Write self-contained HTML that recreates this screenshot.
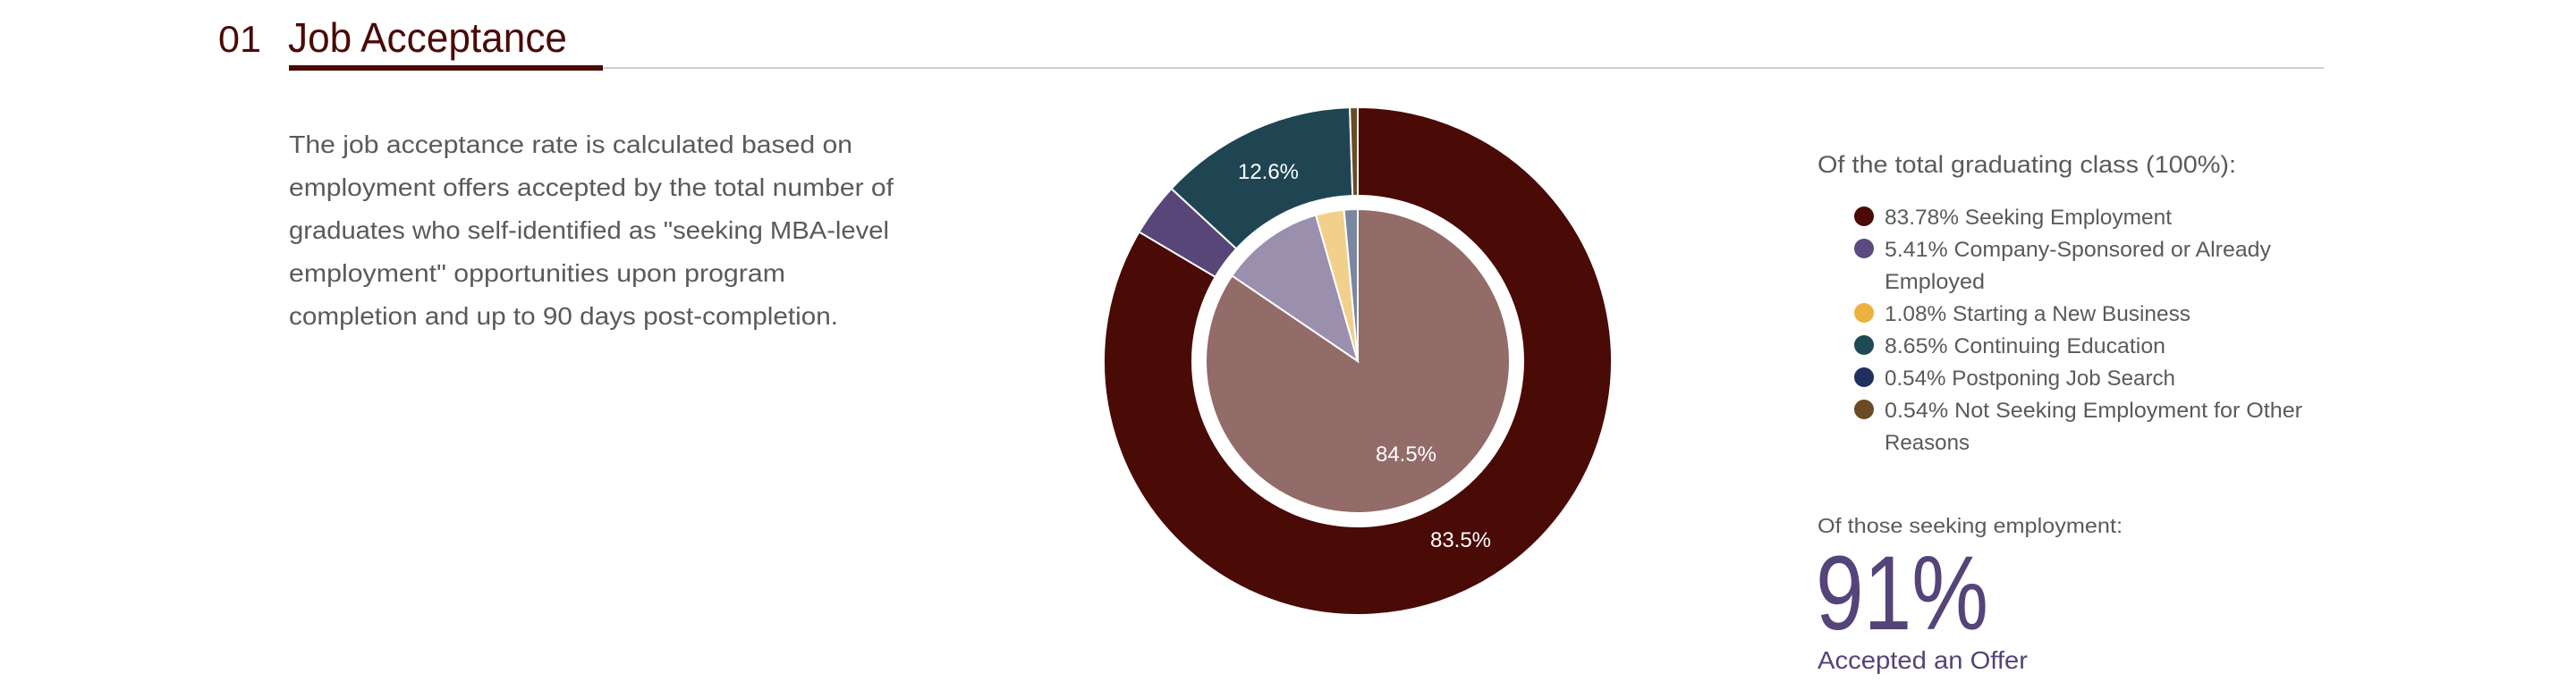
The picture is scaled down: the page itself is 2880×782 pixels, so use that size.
<!DOCTYPE html>
<html><head><meta charset="utf-8"><style>
html,body{margin:0;padding:0;background:#fff;width:2880px;height:782px;overflow:hidden}
svg text{font-family:"Liberation Sans",sans-serif}
</style></head><body>
<svg id="s" width="2880" height="782" viewBox="0 0 2880 782" xmlns="http://www.w3.org/2000/svg">
<text x="244" y="58" font-size="42" fill="#4a0a06" textLength="48" lengthAdjust="spacingAndGlyphs">01</text>
<text x="322" y="58" font-size="46" fill="#4a0a06" textLength="312" lengthAdjust="spacingAndGlyphs">Job Acceptance</text>
<rect x="674" y="75" width="1924" height="2" fill="#cfcfcf"/>
<rect x="323" y="73" width="351" height="6" fill="#4a0a06"/>
<g font-size="28" fill="#5a5a5a">
<text x="323" y="171" textLength="630" lengthAdjust="spacingAndGlyphs">The job acceptance rate is calculated based on</text>
<text x="323" y="219" textLength="676" lengthAdjust="spacingAndGlyphs">employment offers accepted by the total number of</text>
<text x="323" y="267" textLength="671" lengthAdjust="spacingAndGlyphs">graduates who self-identified as "seeking MBA-level</text>
<text x="323" y="315" textLength="555" lengthAdjust="spacingAndGlyphs">employment" opportunities upon program</text>
<text x="323" y="363" textLength="614" lengthAdjust="spacingAndGlyphs">completion and up to 90 days post-completion.</text>
</g>
<g id="pie"></g>
<g font-size="24" fill="#fff">
<text x="1418" y="200" text-anchor="middle">12.6%</text>
<text x="1572" y="516" text-anchor="middle">84.5%</text>
<text x="1633" y="612" text-anchor="middle">83.5%</text>
</g>
<text x="2032" y="193" font-size="27" fill="#5a5a5a" textLength="468" lengthAdjust="spacingAndGlyphs">Of the total graduating class (100%):</text>
<g font-size="24" fill="#5a5a5a">
<circle cx="2084" cy="242" r="11" fill="#4a0a06"/><text x="2107" y="251" textLength="321" lengthAdjust="spacingAndGlyphs">83.78% Seeking Employment</text>
<circle cx="2084" cy="278" r="11" fill="#5b4a7e"/><text x="2107" y="287" textLength="432" lengthAdjust="spacingAndGlyphs">5.41% Company-Sponsored or Already</text>
<text x="2107" y="323" textLength="112" lengthAdjust="spacingAndGlyphs">Employed</text>
<circle cx="2084" cy="350" r="11" fill="#ecb23f"/><text x="2107" y="359" textLength="342" lengthAdjust="spacingAndGlyphs">1.08% Starting a New Business</text>
<circle cx="2084" cy="386" r="11" fill="#1f4a55"/><text x="2107" y="395" textLength="314" lengthAdjust="spacingAndGlyphs">8.65% Continuing Education</text>
<circle cx="2084" cy="422" r="11" fill="#1f2f5e"/><text x="2107" y="431" textLength="325" lengthAdjust="spacingAndGlyphs">0.54% Postponing Job Search</text>
<circle cx="2084" cy="458" r="11" fill="#6b4a25"/><text x="2107" y="467" textLength="467" lengthAdjust="spacingAndGlyphs">0.54% Not Seeking Employment for Other</text>
<text x="2107" y="503" textLength="95" lengthAdjust="spacingAndGlyphs">Reasons</text>
</g>
<text x="2032" y="596" font-size="23" fill="#5a5a5a" textLength="341" lengthAdjust="spacingAndGlyphs">Of those seeking employment:</text>
<text x="2030" y="704" font-size="118" fill="#54447a" font-weight="300" textLength="193" lengthAdjust="spacingAndGlyphs">91%</text>
<text x="2032" y="748" font-size="28" fill="#54447a" textLength="235" lengthAdjust="spacingAndGlyphs">Accepted an Offer</text>
</svg>
<script>
(function(){
var cx=1518,cy=404,g=document.getElementById('pie'),ns='http://www.w3.org/2000/svg';
function pt(r,a){a=(a-90)*Math.PI/180;return [cx+r*Math.cos(a),cy+r*Math.sin(a)];}
function slice(r,a0,a1,col){
 var p0=pt(r,a0),p1=pt(r,a1),large=(a1-a0)>180?1:0;
 var d='M'+cx+' '+cy+' L'+p0[0]+' '+p0[1]+' A'+r+' '+r+' 0 '+large+' 1 '+p1[0]+' '+p1[1]+' Z';
 var e=document.createElementNS(ns,'path');e.setAttribute('d',d);e.setAttribute('fill',col);
 e.setAttribute('stroke','#fff');e.setAttribute('stroke-width','2');g.appendChild(e);
}
var outer=[[0,300.6,'#4a0a06'],[300.6,312.8,'#574677'],[312.8,358.2,'#1f4553'],[358.2,360,'#6b4a25']];
outer.forEach(function(s){slice(284,s[0],s[1],s[2]);});
var c=document.createElementNS(ns,'circle');c.setAttribute('cx',cx);c.setAttribute('cy',cy);c.setAttribute('r',186);c.setAttribute('fill','#fff');g.appendChild(c);
var inner=[[0,304.2,'#936b69'],[304.2,344,'#9a8fad'],[344,354.8,'#f1d08c'],[354.8,360,'#7a87a0']];
inner.forEach(function(s){slice(170,s[0],s[1],s[2]);});
})();
</script>
</body></html>
